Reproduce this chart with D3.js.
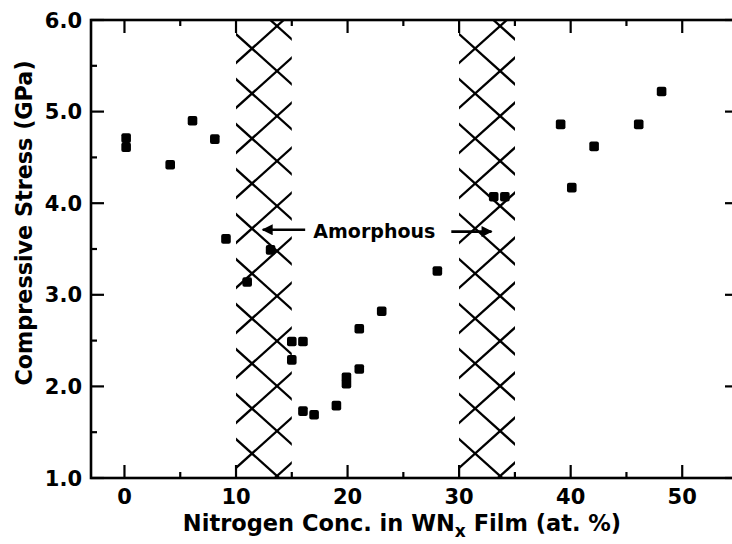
<!DOCTYPE html>
<html>
<head>
<meta charset="utf-8">
<script src="https://cdn.jsdelivr.net/npm/d3@7"></script>
<style>
  html, body { margin: 0; padding: 0; background: #fff; }
  svg { display: block; }
  text { font-family: "DejaVu Sans", sans-serif; font-weight: bold; fill: #000; }
</style>
</head>
<body>
<svg id="chart" width="732" height="544"></svg>
<script>
// ---- data ----
const nitrogen = [0.15, 0.15, 4.1, 6.1, 8.1, 9.1, 11.0, 13.1, 15.0, 16.0, 15.0, 16.0, 17.0, 19.0, 19.9, 19.9, 21.05, 21.05, 23.06, 28.05, 33.1, 34.1, 39.1, 40.1, 42.1, 46.1, 48.15];
const stress   = [4.71, 4.61, 4.42, 4.90, 4.70, 3.61, 3.14, 3.49, 2.49, 2.49, 2.29, 1.73, 1.69, 1.79, 2.10, 2.03, 2.19, 2.63, 2.82, 3.26, 4.07, 4.07, 4.86, 4.17, 4.62, 4.86, 5.22];
const amorphousRanges = [[10, 15], [30, 35]];
const arrowLeft  = { from: 16.2, to: 12.4, y: 3.71 };
const arrowRight = { from: 29.3, to: 32.9, y: 3.69 };
const annotation = { text: "Amorphous", x: 22.4, y: 3.71 };
const xMajorTicks = [0, 10, 20, 30, 40, 50];
const xMinorTicks = [5, 15, 25, 35, 45];
const yMajorTicks = [1, 2, 3, 4, 5, 6];
const yMinorTicks = [1.5, 2.5, 3.5, 4.5, 5.5];
const xTitle = "Nitrogen Conc. in WN";
const yTitle = "Compressive Stress (GPa)";

// ---- layout ----
const svg = d3.select("#chart");
const x = d3.scaleLinear().domain([-3, 55]).range([91, 738]);
const y = d3.scaleLinear().domain([1, 6]).range([478, 20]);
const [x0, x1] = x.range();
const [yb, yt] = y.range();
const lw = 2.6;

// hatch regions
const defs = svg.append("defs");
amorphousRanges.forEach((r, i) => {
  const left = x(r[0]), right = x(r[1]);
  defs.append("clipPath").attr("id", "clip" + i)
    .append("rect").attr("x", left).attr("y", yt).attr("width", right - left).attr("height", yb - yt);
  const g = svg.append("g").attr("clip-path", `url(#clip${i})`);
  const cx = left + 16, cy = 48.5, s = 0.9, period = 45;
  const lines = [];
  for (let k = -2; k <= 12; k++) {
    const yA = cy + period * k;
    lines.push([left - 5, yA + s * (left - 5 - cx), right + 5, yA + s * (right + 5 - cx)]);
    lines.push([left - 5, yA - s * (left - 5 - cx), right + 5, yA - s * (right + 5 - cx)]);
  }
  g.selectAll("line").data(lines).join("line")
    .attr("x1", d => d[0]).attr("y1", d => d[1])
    .attr("x2", d => d[2]).attr("y2", d => d[3])
    .attr("stroke", "#000").attr("stroke-width", 2.3);
});

// frame
svg.append("rect").attr("x", x0).attr("y", yt).attr("width", x1 - x0).attr("height", yb - yt)
  .attr("fill", "none").attr("stroke", "#000").attr("stroke-width", lw);

// ticks
const tickG = svg.append("g").attr("stroke", "#000").attr("stroke-width", 2.2);
const major = 13, minor = 6;
xMajorTicks.forEach(v => {
  tickG.append("line").attr("x1", x(v)).attr("x2", x(v)).attr("y1", yb).attr("y2", yb - major);
  tickG.append("line").attr("x1", x(v)).attr("x2", x(v)).attr("y1", yt).attr("y2", yt + major);
});
xMinorTicks.forEach(v => {
  tickG.append("line").attr("x1", x(v)).attr("x2", x(v)).attr("y1", yb).attr("y2", yb - minor);
  tickG.append("line").attr("x1", x(v)).attr("x2", x(v)).attr("y1", yt).attr("y2", yt + minor);
});
yMajorTicks.forEach(v => {
  tickG.append("line").attr("x1", x0).attr("x2", x0 + major).attr("y1", y(v)).attr("y2", y(v));
  tickG.append("line").attr("x1", x1).attr("x2", x1 - major).attr("y1", y(v)).attr("y2", y(v));
});
yMinorTicks.forEach(v => {
  tickG.append("line").attr("x1", x0).attr("x2", x0 + minor).attr("y1", y(v)).attr("y2", y(v));
  tickG.append("line").attr("x1", x1).attr("x2", x1 - minor).attr("y1", y(v)).attr("y2", y(v));
});

// tick labels
svg.append("g").selectAll("text").data(xMajorTicks).join("text")
  .attr("x", d => x(d)).attr("y", 504)
  .attr("text-anchor", "middle").attr("font-size", 21)
  .text(d => d);
svg.append("g").selectAll("text").data(yMajorTicks).join("text")
  .attr("x", 82).attr("y", d => y(d) + 7.5)
  .attr("text-anchor", "end").attr("font-size", 21)
  .text(d => d.toFixed(1));

// axis titles
const xt = svg.append("text").attr("x", 402).attr("y", 531)
  .attr("text-anchor", "middle").attr("font-size", 22.5);
xt.append("tspan").text(xTitle);
xt.append("tspan").attr("font-size", 17).attr("dy", 6).text("x");
xt.append("tspan").attr("dy", -6).text(" Film (at. %)");

svg.append("text")
  .attr("transform", "translate(32,223) rotate(-90)")
  .attr("text-anchor", "middle").attr("font-size", 22.3)
  .text(yTitle);

// points
svg.append("g").selectAll("rect").data(nitrogen.map((n, i) => [n, stress[i]])).join("rect")
  .attr("x", d => x(d[0]) - 4.8).attr("y", d => y(d[1]) - 4.8)
  .attr("width", 9.6).attr("height", 9.6).attr("rx", 2)
  .attr("fill", "#000");

// annotation arrows
defs.append("marker").attr("id", "head").attr("viewBox", "0 0 10 10")
  .attr("refX", 9).attr("refY", 5).attr("markerWidth", 13).attr("markerHeight", 11)
  .attr("markerUnits", "userSpaceOnUse").attr("orient", "auto")
  .append("path").attr("d", "M0,0 L10,5 L0,10 Z").attr("fill", "#000");
[arrowLeft, arrowRight].forEach(a => {
  svg.append("line")
    .attr("x1", x(a.from)).attr("y1", y(a.y))
    .attr("x2", x(a.to)).attr("y2", y(a.y))
    .attr("stroke", "#000").attr("stroke-width", 2.6)
    .attr("marker-end", "url(#head)");
});
svg.append("text").attr("x", x(annotation.x)).attr("y", y(annotation.y) + 8)
  .attr("text-anchor", "middle").attr("font-size", 19)
  .text(annotation.text);
</script>
</body>
</html>
